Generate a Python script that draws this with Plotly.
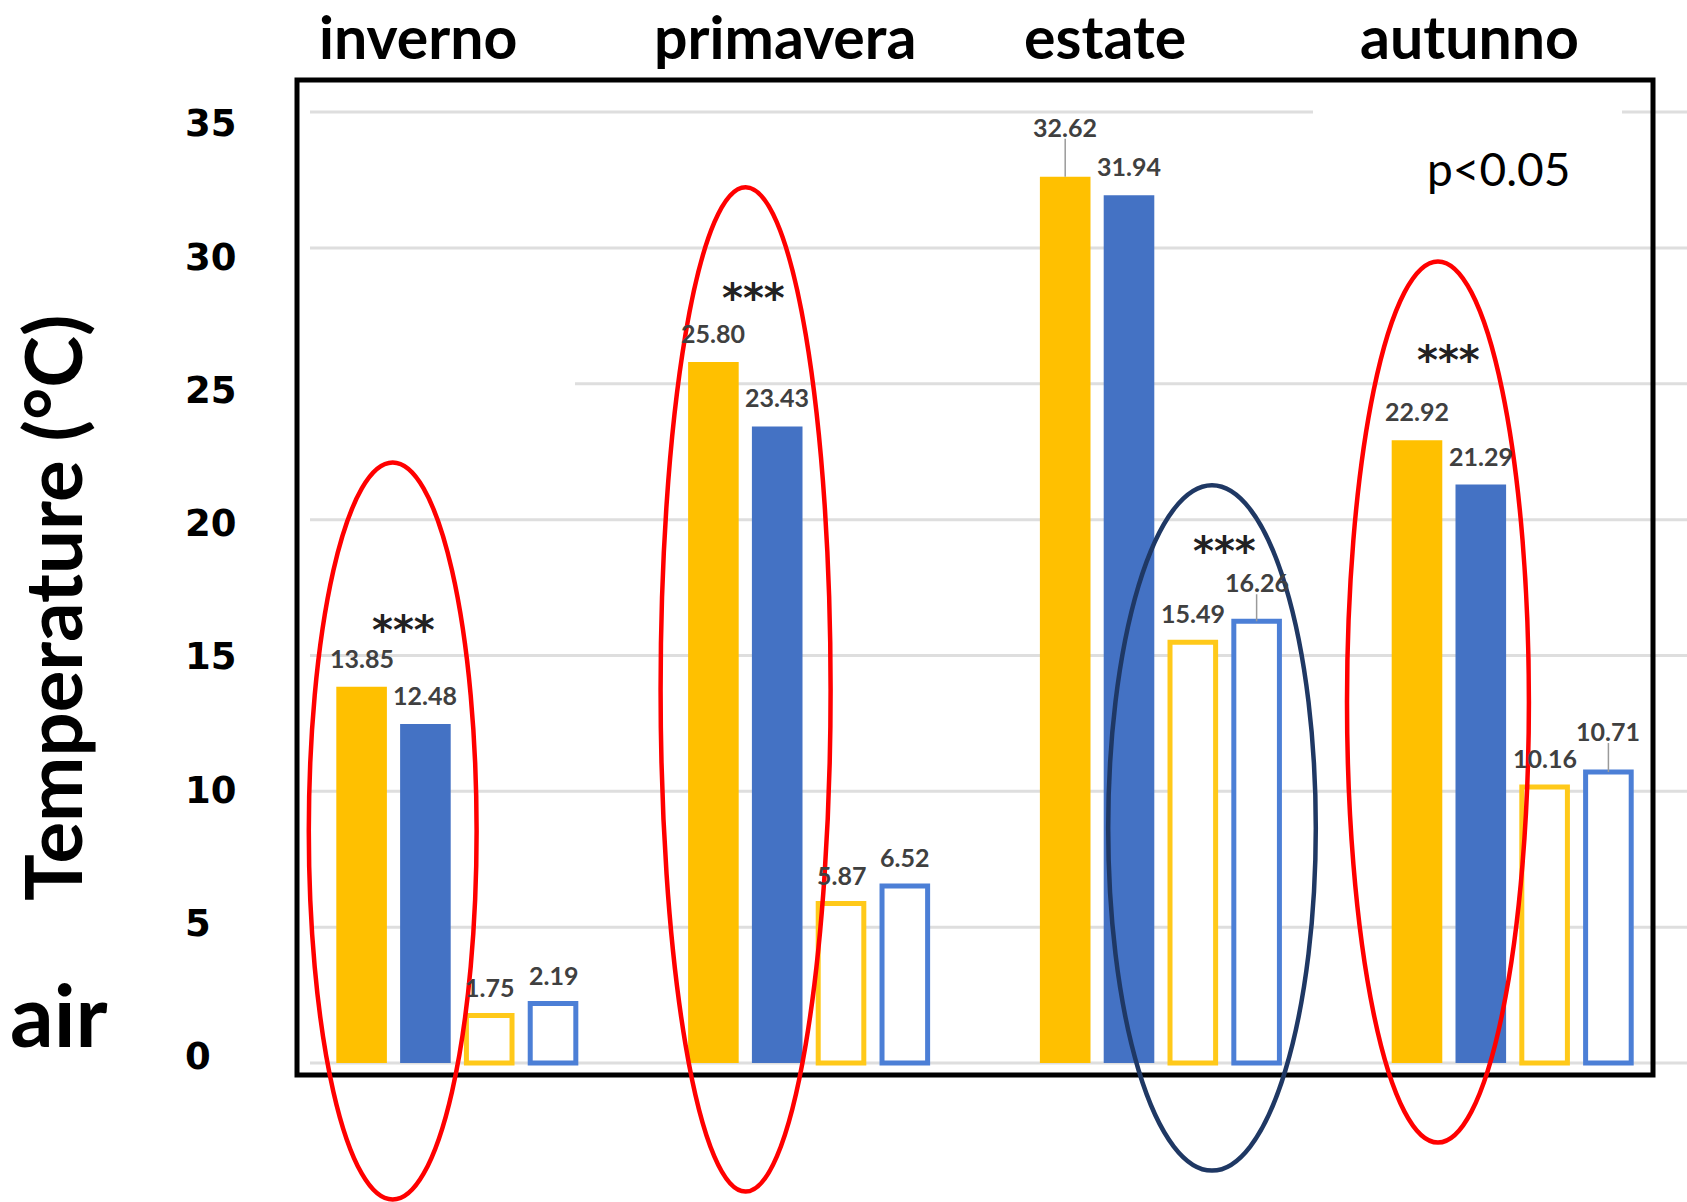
import plotly.graph_objects as go

# ---------------- data ----------------
seasons = ["inverno", "primavera", "estate", "autunno"]
yellow_filled = [13.85, 25.80, 32.62, 22.92]
blue_filled = [12.48, 23.43, 31.94, 21.29]
yellow_open = [1.75, 5.87, 15.49, 10.16]
blue_open = [2.19, 6.52, 16.26, 10.71]
y_ticks = [0, 5, 10, 15, 20, 25, 30, 35]
star_text = "***"
p_text = "p<0.05"
y_title = "Temperature (°C)"
side_label = "air"

# ---------------- layout constants ----------------
W, H = 1687, 1202
ML, MR, MT, MB = 297, 34, 80, 127
PW = W - ML - MR
PH = H - MT - MB
XR = [-0.4557, 3.3988]
YR = [-0.44, 36.18]
PX_X = PW / (XR[1] - XR[0])
BARGAP = 0.2745
BGG = 0.207
SLOT = (1 - BARGAP) / 4
FULL_W = SLOT * (1 - BGG)
OUT_LW = 5
OPEN_W = FULL_W - OUT_LW / PX_X


def px(xp):
    return (xp - ML) / PW


def py(yp):
    return (H - MB - yp) / PH


def slot_center(i, j):
    return i - (1 - BARGAP) / 2 + (j + 0.5) * SLOT


xs = list(range(len(seasons)))
Y_FILL, B_FILL = "#FFC000", "#4472C4"
Y_LINE, B_LINE = "#FFC91A", "#4C7FD6"

fig = go.Figure()
fig.add_trace(go.Bar(x=xs, y=yellow_filled, marker=dict(color=Y_FILL, line=dict(width=0)), width=FULL_W))
fig.add_trace(go.Bar(x=xs, y=blue_filled, marker=dict(color=B_FILL, line=dict(width=0)), width=FULL_W))
fig.add_trace(go.Bar(x=xs, y=yellow_open, marker=dict(color="white", line=dict(color=Y_LINE, width=OUT_LW)), width=OPEN_W))
fig.add_trace(go.Bar(x=xs, y=blue_open, marker=dict(color="white", line=dict(color=B_LINE, width=OUT_LW)), width=OPEN_W))

annotations = []
shapes = []

# gridlines (below)
GRID = "#DEDEDE"
for v in y_ticks:
    segs = [(310, 1687)]
    if v == 35:
        segs = [(310, 1313), (1622, 1687)]
    elif v == 25:
        segs = [(575, 1687)]
    for a, b in segs:
        shapes.append(dict(type="line", xref="paper", yref="y", x0=px(a), x1=px(b), y0=v, y1=v,
                           line=dict(color=GRID, width=3), layer="below"))

# value labels
series = [yellow_filled, blue_filled, yellow_open, blue_open]
leader = {(2, 0): 50, (2, 3): 39, (3, 3): 41}
LABEL_FONT = dict(family="Lato", size=25, color="#404040")
for j, vals in enumerate(series):
    for i, v in enumerate(vals):
        shift = leader.get((i, j), 29)
        xc = slot_center(i, j)
        annotations.append(dict(x=xc, y=v, xref="x", yref="y", text=f"<b>{v:.2f}</b>", showarrow=False,
                                yanchor="middle", xanchor="center", yshift=shift, font=LABEL_FONT))
        if (i, j) in leader:
            shapes.append(dict(type="line", xref="x", yref="y", ysizemode="pixel", yanchor=v,
                               x0=xc, x1=xc, y0=0, y1=shift - 12,
                               line=dict(color="#9A9A9A", width=1.5), layer="above"))

# significance stars
star_pairs = [(0, 1), (0, 1), (2, 3), (0, 1)]
star_dx = [10, 8, 0, 0]
star_dy = [62, 69, 75, 85]
for i, (a, b) in enumerate(star_pairs):
    xc = (slot_center(i, a) + slot_center(i, b)) / 2
    top = max(series[a][i], series[b][i])
    annotations.append(dict(x=xc, y=top, xref="x", yref="y", text=f"<b>{star_text}</b>", showarrow=False,
                            xshift=star_dx[i], yshift=star_dy[i] - 5, yanchor="middle",
                            font=dict(family="DejaVu Sans", size=40, color="#222222")))

# season titles
title_dx = [-39, -24, -56, -43]
for i, s in enumerate(seasons):
    annotations.append(dict(x=i, y=py(37), xref="x", yref="paper", text=f"<b>{s}</b>", showarrow=False,
                            xshift=title_dx[i], yanchor="middle",
                            font=dict(family="Lato", size=59, color="black")))

# y tick labels
for v in y_ticks:
    annotations.append(dict(x=px(183), y=v, xref="paper", yref="y", text=f"<b>{v}</b>", showarrow=False,
                            xanchor="left", yanchor="middle", yshift=6.5 - 0.52 * v,
                            font=dict(family="DejaVu Sans", size=37, color="black")))

# p<0.05
annotations.append(dict(x=px(1498), y=py(168), xref="paper", yref="paper", text=p_text, showarrow=False,
                        xanchor="center", yanchor="middle", font=dict(family="Lato", size=46, color="black")))
# axis title
annotations.append(dict(x=px(52), y=py(608), xref="paper", yref="paper", text=f"<b>{y_title}</b>",
                        showarrow=False, textangle=-90, xanchor="center", yanchor="middle",
                        font=dict(family="Lato", size=78, color="black")))
# air
annotations.append(dict(x=px(59), y=py(1013), xref="paper", yref="paper", text=f"<b>{side_label}</b>",
                        showarrow=False, xanchor="center", yanchor="middle",
                        font=dict(family="Lato", size=86, color="black")))

# frame
shapes.append(dict(type="rect", xref="paper", yref="paper", x0=0, x1=1, y0=0, y1=1,
                   line=dict(color="black", width=5), layer="above"))

# ellipses
ellipses = [
    ((308.8, 462.6, 476.6, 1199.6), "#FF0000"),
    ((660.6, 187.2, 830.6, 1191.6), "#FF0000"),
    ((1108.2, 485.2, 1315.8, 1170.6), "#1F3864"),
    ((1347.0, 261.4, 1528.9, 1142.6), "#FF0000"),
]
for (x0, y0, x1, y1), col in ellipses:
    shapes.append(dict(type="circle", xref="paper", yref="paper", x0=px(x0), x1=px(x1),
                       y0=py(y1), y1=py(y0), line=dict(color=col, width=4.5), layer="above"))

fig.update_layout(
    width=W, height=H,
    margin=dict(l=ML, r=MR, t=MT, b=MB, autoexpand=False),
    barmode="group", bargap=BARGAP, bargroupgap=BGG,
    showlegend=False,
    paper_bgcolor="white", plot_bgcolor="rgba(0,0,0,0)",
    xaxis=dict(range=XR, showticklabels=False, showgrid=False, zeroline=False, showline=False, ticks=""),
    yaxis=dict(range=YR, showticklabels=False, showgrid=False, zeroline=False, showline=False, ticks=""),
    annotations=annotations, shapes=shapes,
)

fig.write_html("out.html")
